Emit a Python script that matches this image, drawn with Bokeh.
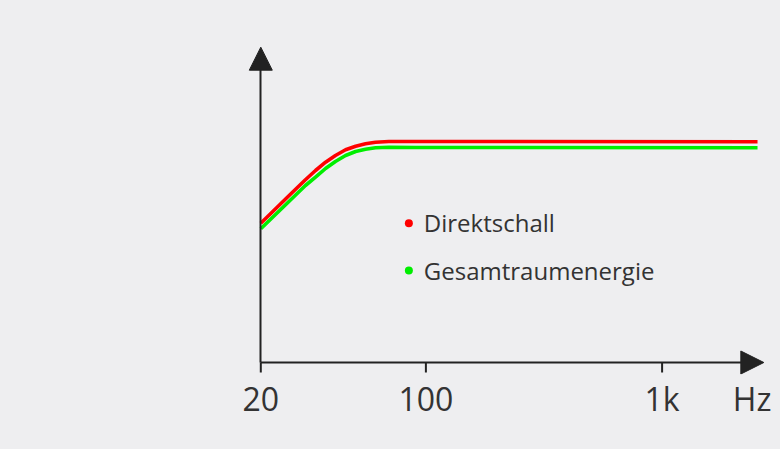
from bokeh.plotting import figure
from bokeh.models import Range1d, FixedTicker, Arrow, NormalHead, LogAxis
from bokeh.core.properties import value
from bokeh.embed import file_html
from bokeh.resources import INLINE

# ---- data ----
freq_direct = [20, 25.4, 30.9, 34.1, 37.6, 41.4, 45.7, 50.4, 55.5, 61.2, 69.7, 90, 2535]
level_direct = [139.3, 163.3, 182.7, 192, 200.3, 207, 212.7, 216.3, 218.7, 220.3, 221, 221, 220.8]
freq_total = [20, 25.4, 30.9, 34.1, 37.6, 41.4, 45.7, 50.4, 55.5, 61.2, 69.7, 90, 2535]
level_total = [133.7, 157.5, 177, 185.3, 194, 201, 207, 211, 213.2, 214.7, 215.2, 215, 214.8]
series_names = ["Direktschall", "Gesamtraumenergie"]
tick_values = [20, 100, 1000]
tick_labels = ["20", "100", "1k"]
unit_label = "Hz"
unit_pos = 2406

# ---- styles ----
BG = "#eeeef0"
AXIS = "#222222"
TEXT = "#333333"
RED = "#ff0000"
GREEN = "#00ee00"
FONT = "Open Sans"

X_MIN, X_MAX = 16.41, 3020.6     # frame extent (Hz)
Y_MIN, Y_MAX = -12, 332          # frame extent (level)
X_AXIS_END, Y_AXIS_END = 2696, 315.3   # arrow tips

p = figure(width=780, height=449, x_axis_type="log",
           x_range=Range1d(X_MIN, X_MAX), y_range=Range1d(Y_MIN, Y_MAX),
           output_backend="svg", toolbar_location=None,
           min_border_left=240, min_border_right=5,
           min_border_top=30, min_border_bottom=75)
p.background_fill_color = BG
p.border_fill_color = BG
p.outline_line_color = None
p.xgrid.visible = False
p.ygrid.visible = False

# x tick labels (axis at the frame bottom, line hidden)
xa = p.xaxis[0]
all_ticks = tick_values + [unit_pos]
xa.ticker = FixedTicker(ticks=all_ticks, minor_ticks=[])
xa.major_label_overrides = {t: l for t, l in zip(all_ticks, tick_labels + [unit_label])}
xa.axis_line_color = None
xa.major_tick_line_color = None
xa.major_tick_out = 0
xa.major_tick_in = 0
xa.minor_tick_line_color = None
xa.major_label_text_font = FONT
xa.major_label_text_font_size = "32px"
xa.major_label_text_color = TEXT
xa.major_label_standoff = 2

# x axis line at level 0, from 20 Hz
xline = LogAxis(fixed_location=0, bounds=(tick_values[0], 2400),
                ticker=FixedTicker(ticks=[], minor_ticks=[]),
                axis_line_color=AXIS, axis_line_width=2,
                major_tick_line_color=None, minor_tick_line_color=None,
                major_label_text_color=None, major_tick_out=0, major_tick_in=0,
                major_label_standoff=0)
p.add_layout(xline, "below")

# y axis line at 20 Hz
ya = p.yaxis[0]
ya.fixed_location = tick_values[0]
ya.bounds = (0, 300)
ya.ticker = FixedTicker(ticks=[], minor_ticks=[])
ya.axis_line_color = AXIS
ya.axis_line_width = 2
ya.major_tick_line_color = None
ya.minor_tick_line_color = None
ya.major_label_text_color = None

# tick marks below the x axis
p.segment(x0=tick_values, y0=[0] * len(tick_values), x1=tick_values, y1=[-10] * len(tick_values),
          line_color=AXIS, line_width=2)

# arrow heads
p.add_layout(Arrow(end=NormalHead(size=23, fill_color=AXIS, line_color=AXIS, line_width=1),
                   x_start=tick_values[0], y_start=290, x_end=tick_values[0], y_end=Y_AXIS_END,
                   line_alpha=0))
p.add_layout(Arrow(end=NormalHead(size=23, fill_color=AXIS, line_color=AXIS, line_width=1),
                   x_start=2100, y_start=0, x_end=X_AXIS_END, y_end=0,
                   line_alpha=0))

# curves
p.line(freq_direct, level_direct, line_color=RED, line_width=3.6, line_join="round")
p.line(freq_total, level_total, line_color=GREEN, line_width=3.6, line_join="round")

# legend (dots + texts)
p.scatter(x=[84.7, 84.7], y=[139.3, 92], size=8, color=[RED, GREEN], line_color=None)
p.text(x=[98, 98], y=[140.5, 92.5], text=series_names,
       text_font=value(FONT), text_font_size="24px", text_color=TEXT,
       text_baseline="middle", text_align="left")

html = file_html(p, INLINE)
html = html.replace("<head>", "<head><style>html,body{background:%s;}</style>" % BG, 1)
open("out.html", "w").write(html)
